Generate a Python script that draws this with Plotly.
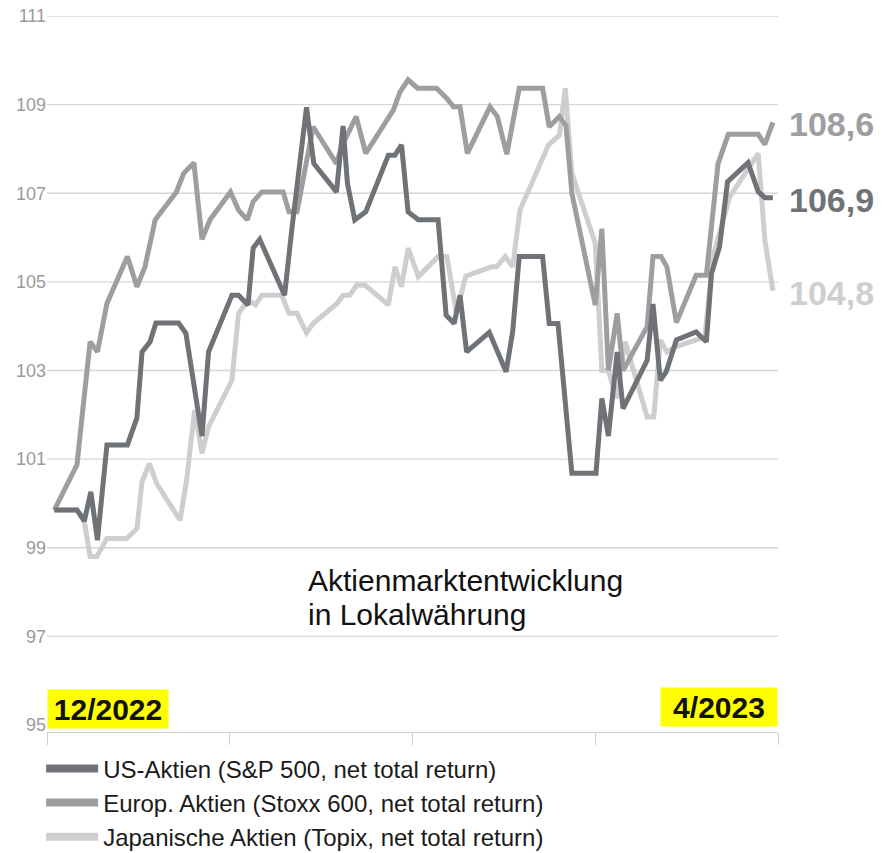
import plotly.graph_objects as go

# ---- data (time index 0..100 spanning 12/2022 .. 4/2023) ----
us_x = [1.0, 4.1, 5.1, 6.0, 6.9, 8.2, 11.0, 12.3, 13.0, 14.1, 14.9, 18.0, 19.0, 21.2, 22.1,
        25.3, 26.2, 27.5, 28.2, 29.1, 32.5, 33.5, 35.5, 36.5, 39.6, 40.5, 41.1, 42.1, 43.6,
        46.7, 47.6, 48.5, 49.4, 50.8, 53.5, 54.6, 55.7, 56.5, 57.4, 60.5, 62.8, 63.7, 64.6,
        67.8, 68.7, 69.9, 71.8, 75.1, 75.9, 76.8, 78.0, 78.8, 82.1, 82.9, 83.9, 84.7, 86.1,
        88.8, 90.2, 90.9, 92.0, 93.1, 95.9, 97.3, 98.2, 99.3]
us_y = [99.85, 99.85, 99.6, 100.26, 99.17, 101.32, 101.32, 101.93, 103.42, 103.65, 104.07,
        104.07, 103.84, 101.52, 103.42, 104.7, 104.7, 104.48, 105.76, 105.96, 104.7, 106.2,
        108.94, 107.67, 107.03, 108.52, 107.22, 106.4, 106.58, 107.86, 107.86, 108.09, 106.58,
        106.4, 106.4, 104.25, 104.06, 104.7, 103.42, 103.86, 102.97, 103.87, 105.57, 105.57,
        104.06, 104.06, 100.68, 100.68, 102.37, 101.52, 103.42, 102.14, 103.23, 104.5, 102.78,
        102.97, 103.69, 103.87, 103.65, 105.19, 105.79, 107.26, 107.69, 107.03, 106.9, 106.9]

eu_x = [1.0, 4.1, 4.7, 5.9, 6.9, 8.2, 11.0, 12.3, 13.4, 14.8, 17.7, 18.7, 20.1, 21.2, 22.3,
        25.1, 26.2, 27.4, 28.2, 29.4, 32.3, 33.1, 34.2, 36.4, 39.6, 40.3, 42.3, 43.6, 47.4,
        48.3, 49.4, 50.7, 53.3, 54.7, 55.6, 56.5, 57.5, 60.6, 61.6, 62.9, 64.6, 67.8, 68.7,
        70.1, 71.0, 71.8, 75.0, 75.9, 76.8, 78.0, 78.8, 82.1, 82.9, 84.0, 84.8, 86.1, 88.8,
        90.2, 91.8, 93.2, 97.3, 98.2, 99.3]
eu_y = [99.85, 100.87, 101.81, 103.65, 103.42, 104.51, 105.57, 104.89, 105.34, 106.4, 107.03,
        107.45, 107.69, 105.96, 106.4, 107.03, 106.62, 106.4, 106.81, 107.03, 107.03, 106.58,
        106.58, 108.5, 107.67, 108.05, 108.73, 107.9, 108.88, 109.29, 109.56, 109.37, 109.37,
        109.14, 108.95, 108.95, 107.9, 108.95, 108.73, 107.88, 109.37, 109.37, 108.5, 108.73,
        108.52, 107.0, 104.48, 106.2, 103.0, 104.29, 103.0, 103.99, 105.57, 105.57, 105.34,
        104.08, 105.15, 105.15, 107.67, 108.33, 108.33, 108.1, 108.6]

jp_x = [1.0, 4.1, 5.0, 5.9, 6.8, 8.2, 10.9, 12.3, 13.0, 14.0, 15.0, 18.2, 19.1, 20.2, 21.2,
        22.1, 25.3, 26.2, 27.5, 28.5, 29.4, 32.1, 33.1, 34.2, 35.5, 36.4, 39.6, 40.5, 41.4,
        42.4, 43.5, 46.7, 47.6, 48.5, 49.4, 50.8, 53.5, 54.7, 56.0, 57.3, 60.8, 61.5, 62.7,
        63.7, 64.7, 67.4, 68.6, 70.1, 70.9, 71.8, 75.0, 75.9, 76.8, 77.9, 79.1, 82.1, 83.0,
        83.9, 84.8, 86.1, 90.0, 91.1, 93.4, 97.3, 98.2, 99.3]
jp_y = [99.85, 99.85, 99.7, 98.8, 98.8, 99.21, 99.21, 99.43, 100.49, 100.9, 100.45, 99.62,
        100.53, 102.11, 101.13, 101.73, 102.78, 104.29, 104.59, 104.48, 104.7, 104.7, 104.29,
        104.29, 103.85, 104.06, 104.5, 104.7, 104.7, 104.93, 104.93, 104.48, 105.34, 104.89,
        105.76, 105.12, 105.57, 105.57, 104.3, 105.13, 105.34, 105.34, 105.57, 105.34, 106.62,
        107.61, 108.09, 108.31, 109.37, 107.45, 105.87, 103.0, 103.0, 102.37, 103.65, 101.95,
        101.95, 103.69, 103.42, 103.54, 103.76, 105.57, 106.92, 107.9, 105.94, 104.8]

series_names = ["US-Aktien (S&P 500, net total return)",
                "Europ. Aktien (Stoxx 600, net total return)",
                "Japanische Aktien (Topix, net total return)"]
series_colors = ["#6f7378", "#9e9da0", "#cecece"]

y_ticks = [95, 97, 99, 101, 103, 105, 107, 109, 111]
x_ticks = [0, 25, 50, 75, 100]
period_labels = ["12/2022", "4/2023"]
title_lines = ["Aktienmarktentwicklung", "in Lokalwährung"]

FONT = "Liberation Sans, Arial, Helvetica, sans-serif"

fig = go.Figure()

# draw order: Japan (back), Europe, US (front)
data = [(us_x, us_y), (eu_x, eu_y), (jp_x, jp_y)]
for i in [2, 1, 0]:
    xs, ys = data[i]
    fig.add_trace(go.Scatter(x=xs, y=ys, mode="lines", showlegend=False,
                             line=dict(color=series_colors[i], width=5, shape="linear"),
                             hoverinfo="skip"))
# legend entries
for i in range(3):
    fig.add_trace(go.Scatter(x=[None], y=[None], mode="lines", name=series_names[i],
                             line=dict(color=series_colors[i], width=8)))

# gridlines
for v in y_ticks[1:]:
    fig.add_shape(type="line", xref="paper", yref="y", x0=0, x1=1, y0=v, y1=v,
                  line=dict(color="#d6d6d6", width=1.3), layer="below")

annotations = []
# end-value labels
for i in range(3):
    xs, ys = data[i]
    annotations.append(dict(x=1, xref="paper", y=ys[-1], yref="y", xanchor="left",
                            yanchor="middle", xshift=9, yshift=-2, showarrow=False,
                            text="<b>" + f"{ys[-1]:.1f}".replace(".", ",") + "</b>",
                            font=dict(family=FONT, size=34, color=series_colors[i])))
# period boxes
annotations.append(dict(x=0, xref="paper", y=0.004, yref="paper", xanchor="left",
                        yanchor="bottom", showarrow=False, text="<b>" + period_labels[0] + "</b>",
                        bgcolor="#ffff00", borderpad=0, width=120, height=38,
                        font=dict(family=FONT, size=30, color="#111111")))
annotations.append(dict(x=1, xref="paper", y=0.007, yref="paper", xanchor="right",
                        yanchor="bottom", showarrow=False, text="<b>" + period_labels[1] + "</b>",
                        bgcolor="#ffff00", borderpad=0, width=116, height=38,
                        font=dict(family=FONT, size=30, color="#111111")))
# chart caption
annotations.append(dict(x=0.354, xref="paper", y=0.212, yref="paper", xanchor="left",
                        yanchor="middle", showarrow=False, text=title_lines[0],
                        font=dict(family=FONT, size=30, color="#111111")))
annotations.append(dict(x=0.354, xref="paper", y=0.164, yref="paper", xanchor="left",
                        yanchor="middle", showarrow=False, text=title_lines[1],
                        font=dict(family=FONT, size=30, color="#111111")))

fig.update_layout(
    width=883, height=853,
    margin=dict(l=47, r=105, t=16, b=121, pad=0, autoexpand=False),
    paper_bgcolor="white", plot_bgcolor="white",
    font=dict(family=FONT),
    xaxis=dict(range=[0, 100], tickvals=x_ticks, showticklabels=False, ticks="outside",
               ticklen=12, tickcolor="#d0d0d0", tickwidth=1.3, showgrid=False,
               zeroline=False, showline=True, linecolor="#d0d0d0", linewidth=1.3,
               fixedrange=True),
    yaxis=dict(range=[94.842, 111], tickvals=y_ticks, ticktext=[str(v) for v in y_ticks],
               showgrid=False, zeroline=False, showline=False, ticks="",
               ticklabelstandoff=0, ticklabeloverflow="allow",
               tickfont=dict(family=FONT, size=18, color="#9a9a9a"), fixedrange=True),
    legend=dict(x=-0.008, xanchor="left", y=-0.02, yanchor="top", orientation="v",
                font=dict(family=FONT, size=24, color="#1a1a1a"),
                bgcolor="rgba(0,0,0,0)", itemwidth=52, tracegroupgap=0),
    annotations=annotations,
    showlegend=True,
)

fig.write_html("out.html", config={"displayModeBar": False},
               post_script="document.body.style.margin='0px';"
                           "document.body.style.overflow='hidden';")
